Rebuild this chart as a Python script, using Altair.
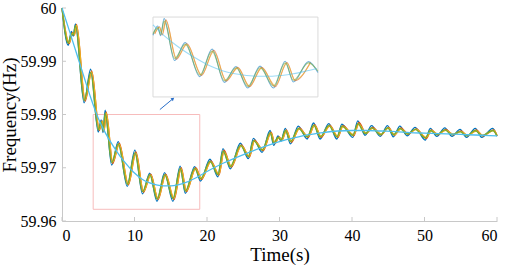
import altair as alt
import pandas as pd

# ---- data ----
t_osc = [0.0, 0.85, 1.3, 1.55, 1.85, 3.05, 3.95, 5.0, 5.4, 5.65, 5.95, 6.85, 7.75, 9.0,
         10.05, 11.1, 12.1, 13.1, 14.15, 15.3, 16.3, 17.0, 18.3, 19.1, 20.4, 21.5, 22.2,
         23.2, 24.6, 25.7, 26.4, 27.6, 28.7, 29.2, 29.8, 30.2, 30.8, 31.5, 32.6, 33.8,
         34.7, 35.6, 36.8, 37.9, 38.6, 40.1, 40.8, 41.8, 42.7, 43.9, 44.9, 45.7, 46.6,
         47.6, 48.7, 50.1, 50.8, 51.7, 52.8, 53.8, 54.9, 55.8, 57.0, 57.9, 59.4, 60.0]

# orange / yellow traces run slightly behind the blue / green ones
t_osc_lag = [0.0, 1.0, 1.45, 1.7, 2.0, 3.2, 4.1, 5.15, 5.55, 5.8, 6.1, 7.0, 7.9, 9.15,
             10.2, 11.25, 12.25, 13.25, 14.3, 15.45, 16.45, 17.15, 18.45, 19.25, 20.55,
             21.65, 22.35, 23.35, 24.75, 25.85, 26.55, 27.75, 28.85, 29.35, 29.95, 30.35,
             30.95, 31.65, 32.75, 33.95, 34.85, 35.75, 36.95, 38.05, 38.75, 40.25, 40.95,
             41.95, 42.85, 44.05, 45.05, 45.85, 46.75, 47.75, 48.85, 50.25, 50.95, 51.85,
             52.95, 53.95, 55.05, 55.95, 57.15, 58.05, 59.55, 60.0]

f_blue = [60.0000, 59.9930, 59.9956, 59.9947, 59.9970, 59.9822, 59.9885, 59.9767, 59.9790,
          59.9766, 59.9808, 59.9705, 59.9749, 59.9665, 59.9733, 59.9651, 59.9690, 59.9637,
          59.9691, 59.9637, 59.9703, 59.9652, 59.9702, 59.9675, 59.9716, 59.9683, 59.9736,
          59.9698, 59.9746, 59.9717, 59.9755, 59.9729, 59.9770, 59.9742, 59.9760, 59.9750,
          59.9774, 59.9745, 59.9778, 59.9754, 59.9784, 59.9754, 59.9783, 59.9754, 59.9782,
          59.9757, 59.9788, 59.9761, 59.9779, 59.9759, 59.9779, 59.9758, 59.9778, 59.9760,
          59.9776, 59.9752, 59.9774, 59.9759, 59.9775, 59.9759, 59.9772, 59.9757, 59.9774,
          59.9757, 59.9774, 59.9759]

f_orange = [60.0000, 59.9933, 59.9954, 59.9949, 59.9969, 59.9825, 59.9882, 59.9770, 59.9788,
            59.9768, 59.9805, 59.9708, 59.9746, 59.9668, 59.9730, 59.9654, 59.9688, 59.9640,
            59.9688, 59.9640, 59.9700, 59.9655, 59.9700, 59.9678, 59.9713, 59.9686, 59.9733,
            59.9701, 59.9743, 59.9720, 59.9752, 59.9732, 59.9767, 59.9745, 59.9758, 59.9752,
            59.9771, 59.9748, 59.9775, 59.9757, 59.9781, 59.9757, 59.9780, 59.9757, 59.9779,
            59.9760, 59.9785, 59.9764, 59.9776, 59.9762, 59.9776, 59.9761, 59.9775, 59.9763,
            59.9773, 59.9755, 59.9771, 59.9762, 59.9772, 59.9762, 59.9769, 59.9760, 59.9771,
            59.9760, 59.9771, 59.9760]

f_yellow = [60.0000, 59.9935, 59.9953, 59.9950, 59.9968, 59.9828, 59.9880, 59.9772, 59.9787,
            59.9770, 59.9803, 59.9711, 59.9744, 59.9670, 59.9727, 59.9656, 59.9686, 59.9642,
            59.9686, 59.9643, 59.9698, 59.9657, 59.9698, 59.9680, 59.9711, 59.9688, 59.9730,
            59.9703, 59.9741, 59.9722, 59.9750, 59.9734, 59.9765, 59.9747, 59.9757, 59.9753,
            59.9769, 59.9750, 59.9773, 59.9759, 59.9779, 59.9759, 59.9778, 59.9759, 59.9777,
            59.9762, 59.9782, 59.9765, 59.9774, 59.9763, 59.9775, 59.9762, 59.9773, 59.9764,
            59.9772, 59.9757, 59.9770, 59.9763, 59.9770, 59.9763, 59.9768, 59.9761, 59.9769,
            59.9761, 59.9770, 59.9761]

f_green = [60.0000, 59.9934, 59.9952, 59.9949, 59.9967, 59.9826, 59.9879, 59.9771, 59.9786,
           59.9769, 59.9802, 59.9710, 59.9745, 59.9669, 59.9728, 59.9655, 59.9687, 59.9641,
           59.9687, 59.9642, 59.9699, 59.9656, 59.9699, 59.9679, 59.9712, 59.9687, 59.9731,
           59.9702, 59.9742, 59.9721, 59.9751, 59.9733, 59.9766, 59.9746, 59.9757, 59.9752,
           59.9770, 59.9749, 59.9774, 59.9758, 59.9780, 59.9758, 59.9779, 59.9758, 59.9778,
           59.9761, 59.9783, 59.9764, 59.9775, 59.9762, 59.9775, 59.9762, 59.9774, 59.9763,
           59.9772, 59.9756, 59.9770, 59.9762, 59.9771, 59.9762, 59.9768, 59.9760, 59.9770,
           59.9760, 59.9770, 59.9760]

t_smooth = [0, 1, 2, 3, 4, 5, 6, 7, 8, 9, 10, 11, 12, 13, 14, 15, 16, 17, 18, 19, 20,
            22, 24, 26, 28, 30, 32, 34, 36, 38, 40, 42, 44, 46, 48, 50, 52, 54, 56, 58, 60]
f_smooth = [60.0000, 59.9958, 59.9915, 59.9872, 59.9830, 59.9793, 59.9765, 59.9742, 59.9722,
            59.9705, 59.9690, 59.9679, 59.9672, 59.9668, 59.9666, 59.9666, 59.9668, 59.9672,
            59.9678, 59.9685, 59.9693, 59.9707, 59.9719, 59.9730, 59.9740, 59.9749, 59.9756,
            59.9762, 59.9766, 59.9769, 59.9770, 59.9770, 59.9769, 59.9768, 59.9766, 59.9765,
            59.9764, 59.9763, 59.9762, 59.9761, 59.9760]

x_ticks = [0, 10, 20, 30, 40, 50, 60]
y_ticks = [59.96, 59.97, 59.98, 59.99, 60.0]

zoom_box_t = [4.3, 19.0]
zoom_box_f = [59.9622, 59.98]
inset_box_t = [12.55, 35.3]
inset_box_f = [59.9833, 59.9983]
inset_src_t = [5.0, 19.1]
inset_src_f = [59.9615, 59.9812]
arrow_t = [13.5, 15.3]
arrow_f = [59.98093, 59.98296]

osc_series = [("blue", t_osc, f_blue, "#0072BD"), ("orange", t_osc_lag, f_orange, "#D95319"),
              ("yellow", t_osc_lag, f_yellow, "#EDB120"), ("green", t_osc, f_green, "#77AC30")]
smooth_color = "#4DBEEE"

FONT = "Liberation Serif"
W, H = 435, 213

xs = alt.Scale(domain=[0, 60], nice=False)
ys = alt.Scale(domain=[59.96, 60.0], nice=False, zero=False)

x_axis = alt.Axis(values=x_ticks, title="Time(s)", labelPadding=6, titlePadding=2,
                  ticks=False, grid=False, format="d",
                  labelFont=FONT, titleFont=FONT, labelFontSize=16, titleFontSize=19)
y_axis = alt.Axis(values=y_ticks, title="Frequency(Hz)", labelPadding=6, titlePadding=1,
                  ticks=False, grid=False,
                  labelFont=FONT, titleFont=FONT, labelFontSize=16, titleFontSize=19,
                  labelExpr="datum.value == 60 ? '60' : format(datum.value, '.2f')")


def X(field):
    return alt.X(field, scale=xs, axis=x_axis)


def Y(field):
    return alt.Y(field, scale=ys, axis=y_axis)


layers = []

# zoom box (red)
zb = pd.DataFrame({"t": [zoom_box_t[0]], "t2": [zoom_box_t[1]],
                   "f": [zoom_box_f[0]], "f2": [zoom_box_f[1]]})
layers.append(alt.Chart(zb).mark_rect(fill="white", fillOpacity=0, stroke="#f7bcbc",
                                      strokeWidth=1).encode(
    x=X("t:Q"), x2="t2:Q", y=Y("f:Q"), y2="f2:Q"))

# tick marks (inward)
xt = pd.DataFrame({"v": x_ticks})
yt = pd.DataFrame({"v": y_ticks})
layers.append(alt.Chart(xt).mark_rule(color="#c8c8c8", strokeWidth=1).encode(
    x=X("v:Q"), y=alt.value(H), y2=alt.value(H - 4)))
layers.append(alt.Chart(yt).mark_rule(color="#c8c8c8", strokeWidth=1).encode(
    y=Y("v:Q"), x=alt.value(0), x2=alt.value(4)))

# main lines
for name, tt, vals, col in osc_series:
    d = pd.DataFrame({"t": tt, "f": vals})
    layers.append(alt.Chart(d).mark_line(color=col, strokeWidth=1.3,
                                         interpolate="monotone").encode(
        x=X("t:Q"), y=Y("f:Q")))
ds = pd.DataFrame({"t": t_smooth, "f": f_smooth})
layers.append(alt.Chart(ds).mark_line(color=smooth_color, strokeWidth=1.3,
                                      interpolate="monotone").encode(
    x=X("t:Q"), y=Y("f:Q")))

# inset background
ib = pd.DataFrame({"t": [inset_box_t[0]], "t2": [inset_box_t[1]],
                   "f": [inset_box_f[0]], "f2": [inset_box_f[1]]})
layers.append(alt.Chart(ib).mark_rect(fill="white", stroke="#dadada",
                                      strokeWidth=1).encode(
    x=X("t:Q"), x2="t2:Q", y=Y("f:Q"), y2="f2:Q"))

tx_expr = (f"{inset_box_t[0]} + (datum.t - {inset_src_t[0]}) / "
           f"({inset_src_t[1]} - {inset_src_t[0]}) * ({inset_box_t[1]} - {inset_box_t[0]})")
fy_expr = (f"{inset_box_f[0]} + (datum.f - {inset_src_f[0]}) / "
           f"({inset_src_f[1]} - {inset_src_f[0]}) * ({inset_box_f[1]} - {inset_box_f[0]})")
flt = f"datum.t >= {inset_src_t[0]} && datum.t <= {inset_src_t[1]}"


def inset_line(d, col):
    return alt.Chart(d).transform_filter(flt).transform_calculate(
        tx=tx_expr, fy=fy_expr).mark_line(color=col, strokeWidth=1.1, opacity=0.55,
                                          interpolate="monotone").encode(
        x=X("tx:Q"), y=Y("fy:Q"))


for name, tt, vals, col in osc_series:
    layers.append(inset_line(pd.DataFrame({"t": tt, "f": vals}), col))
layers.append(inset_line(ds, smooth_color))

# arrow
ar = pd.DataFrame({"t": [arrow_t[0]], "t2": [arrow_t[1]], "f": [arrow_f[0]], "f2": [arrow_f[1]]})
layers.append(alt.Chart(ar).mark_rule(color="#2a6fc9", strokeWidth=1).encode(
    x=X("t:Q"), x2="t2:Q", y=Y("f:Q"), y2="f2:Q"))
ah = pd.DataFrame({"t": [arrow_t[1]], "f": [arrow_f[1]]})
layers.append(alt.Chart(ah).mark_point(shape="triangle-up", angle=50, filled=True,
                                       size=14, color="#2a6fc9", opacity=1).encode(
    x=X("t:Q"), y=Y("f:Q")))

chart = alt.layer(*layers).properties(
    width=W, height=H,
    autosize=alt.AutoSizeParams(type="none"),
    padding={"left": 62, "top": 8, "right": 8, "bottom": 48},
    background="white",
).configure_view(stroke=None).configure_axis(
    domainColor="#c8c8c8", domainWidth=1,
    labelColor="black", titleColor="black", titleFontWeight="normal",
)

chart.save("out.html", embed_options={"renderer": "svg", "actions": False})
